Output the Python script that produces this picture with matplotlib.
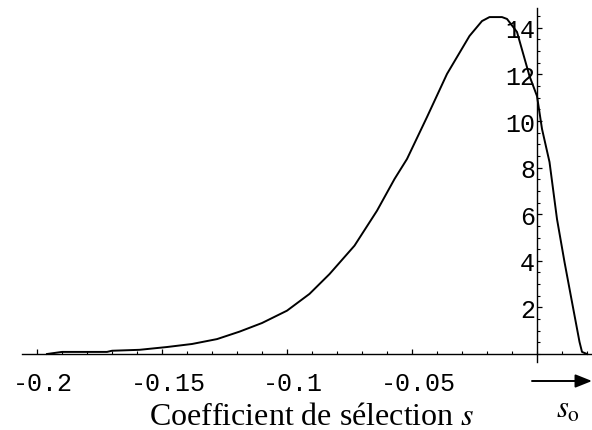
import numpy as np
import matplotlib.pyplot as plt
from matplotlib.ticker import MultipleLocator
from matplotlib.transforms import offset_copy

plt.rcParams["mathtext.fontset"] = "stix"

# coefficient de sélection s et densité correspondante
s = [-0.196, -0.190, -0.172, -0.170, -0.159, -0.148, -0.138, -0.128, -0.119,
     -0.110, -0.100, -0.091, -0.083, -0.073, -0.064, -0.057, -0.052, -0.044,
     -0.036, -0.027, -0.022, -0.019, -0.014, -0.012, -0.008, -0.003, 0.0,
     0.002, 0.005, 0.008, 0.011, 0.014, 0.017, 0.018, 0.020]
dens = [0.0, 0.09, 0.09, 0.14, 0.18, 0.30, 0.43, 0.64, 0.96,
        1.33, 1.86, 2.58, 3.43, 4.65, 6.15, 7.51, 8.37, 10.17,
        12.02, 13.65, 14.29, 14.46, 14.46, 14.38, 13.82, 11.93, 11.07,
        9.66, 8.24, 5.79, 3.95, 2.23, 0.52, 0.09, 0.0]

xticks = [-0.2, -0.15, -0.1, -0.05]
xlabels = ["-0.2", "-0.15", "-0.1", "-0.05"]
yticks = [2, 4, 6, 8, 10, 12, 14]

W, H = 592, 431
fig = plt.figure(figsize=(W / 100, H / 100), dpi=100)
ax = fig.add_axes([22 / W, (H - 363) / H, 570 / W, 354 / H])
ax.set_xlim(-0.206, 0.022)
ax.set_ylim(-0.343, 14.85)

ax.plot(s, dens, color="black", lw=1.4)

# axes qui se croisent à l'origine
for side in ["top", "right"]:
    ax.spines[side].set_visible(False)
ax.spines["left"].set_position(("data", 0))
ax.spines["bottom"].set_position(("data", 0))
ax.spines["left"].set_linewidth(1.0)
ax.spines["bottom"].set_linewidth(1.0)

ax.set_xticks(xticks)
ax.xaxis.set_minor_locator(MultipleLocator(0.01))
ax.set_xticklabels([])
ax.set_yticks(yticks)
ax.yaxis.set_minor_locator(MultipleLocator(0.5))
ax.tick_params(which="major", direction="in", length=3.5, width=0.9)
ax.tick_params(which="minor", direction="in", length=2, width=0.8)
ax.tick_params(axis="y", labelsize=18, pad=1.5)
for lbl in ax.get_yticklabels():
    lbl.set_family("Liberation Mono")

# étiquettes de l'axe des x
tr = offset_copy(ax.transData, fig=fig, x=6, y=-17, units="dots")
for xv, txt in zip(xticks, xlabels):
    ax.text(xv, 0, txt, transform=tr,
            ha="center", va="top", fontsize=18, family="Liberation Mono")

fig.text(312 / W, (H - 425) / H, "Coefficient de sélection $s$",
         ha="center", va="baseline", fontsize=23, family="Liberation Serif")

# flèche vers s_o
ax.annotate("", xy=(592, H - 382), xytext=(532, H - 382),
            xycoords="figure pixels", textcoords="figure pixels",
            arrowprops=dict(arrowstyle="-|>,head_length=1.0,head_width=0.4",
                            color="black", lw=1.4, shrinkA=0, shrinkB=0))
fig.text(568 / W, (H - 418) / H, r"$s_{\mathrm{o}}$", ha="center",
         va="baseline", fontsize=22)

fig.savefig("out.png", dpi=100)
